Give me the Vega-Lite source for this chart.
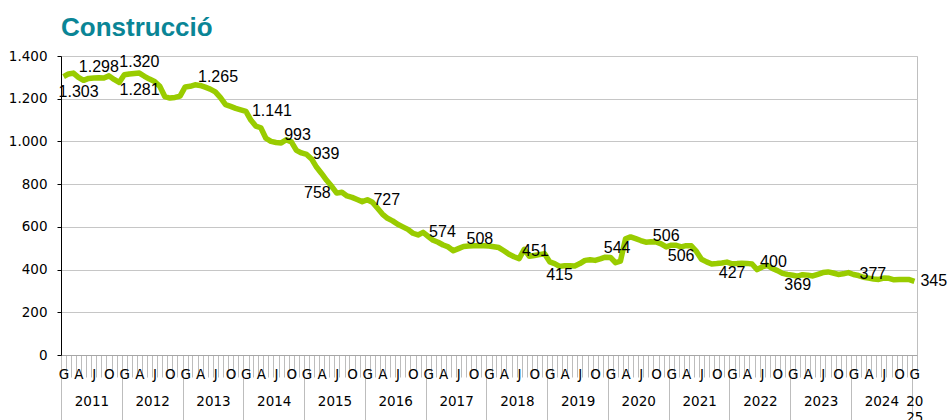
{
  "$schema": "https://vega.github.io/schema/vega-lite/v6.json",
  "width": 856,
  "height": 299,
  "autosize": {"type": "none"},
  "padding": {"left": 61, "top": 56, "right": 31, "bottom": 65},
  "title": {"text": "Construcció", "anchor": "start", "frame": "group", "font": "Liberation Sans", "fontSize": 26, "fontWeight": "bold", "color": "#0A8596", "offset": 8},
  "config": {
    "locale": {"number": {"decimal": ",", "thousands": ".", "grouping": [3], "currency": ["", " €"]}},
    "view": {"stroke": "#BFBFBF"},
    "font": "Liberation Sans"
  },
  "data": {"values": [
    {"date":"2011-01","v":1303},{"date":"2011-02","v":1316},{"date":"2011-03","v":1320},{"date":"2011-04","v":1300},{"date":"2011-05","v":1286},{"date":"2011-06","v":1295},{"date":"2011-07","v":1297},{"date":"2011-08","v":1298},{"date":"2011-09","v":1297},{"date":"2011-10","v":1307},{"date":"2011-11","v":1290},{"date":"2011-12","v":1276},
    {"date":"2012-01","v":1312},{"date":"2012-02","v":1316},{"date":"2012-03","v":1318},{"date":"2012-04","v":1320},{"date":"2012-05","v":1305},{"date":"2012-06","v":1292},{"date":"2012-07","v":1281},{"date":"2012-08","v":1258},{"date":"2012-09","v":1210},{"date":"2012-10","v":1203},{"date":"2012-11","v":1206},{"date":"2012-12","v":1212},
    {"date":"2013-01","v":1255},{"date":"2013-02","v":1258},{"date":"2013-03","v":1265},{"date":"2013-04","v":1262},{"date":"2013-05","v":1254},{"date":"2013-06","v":1245},{"date":"2013-07","v":1232},{"date":"2013-08","v":1205},{"date":"2013-09","v":1172},{"date":"2013-10","v":1164},{"date":"2013-11","v":1155},{"date":"2013-12","v":1148},
    {"date":"2014-01","v":1141},{"date":"2014-02","v":1100},{"date":"2014-03","v":1072},{"date":"2014-04","v":1064},{"date":"2014-05","v":1015},{"date":"2014-06","v":1000},{"date":"2014-07","v":995},{"date":"2014-08","v":993},{"date":"2014-09","v":1008},{"date":"2014-10","v":998},{"date":"2014-11","v":958},{"date":"2014-12","v":946},
    {"date":"2015-01","v":939},{"date":"2015-02","v":918},{"date":"2015-03","v":880},{"date":"2015-04","v":850},{"date":"2015-05","v":818},{"date":"2015-06","v":790},{"date":"2015-07","v":758},{"date":"2015-08","v":762},{"date":"2015-09","v":745},{"date":"2015-10","v":738},{"date":"2015-11","v":728},{"date":"2015-12","v":718},
    {"date":"2016-01","v":727},{"date":"2016-02","v":715},{"date":"2016-03","v":688},{"date":"2016-04","v":660},{"date":"2016-05","v":640},{"date":"2016-06","v":628},{"date":"2016-07","v":612},{"date":"2016-08","v":600},{"date":"2016-09","v":588},{"date":"2016-10","v":570},{"date":"2016-11","v":562},{"date":"2016-12","v":574},
    {"date":"2017-01","v":555},{"date":"2017-02","v":537},{"date":"2017-03","v":528},{"date":"2017-04","v":515},{"date":"2017-05","v":506},{"date":"2017-06","v":488},{"date":"2017-07","v":498},{"date":"2017-08","v":508},{"date":"2017-09","v":510},{"date":"2017-10","v":511},{"date":"2017-11","v":512},{"date":"2017-12","v":512},
    {"date":"2018-01","v":510},{"date":"2018-02","v":507},{"date":"2018-03","v":503},{"date":"2018-04","v":488},{"date":"2018-05","v":472},{"date":"2018-06","v":460},{"date":"2018-07","v":451},{"date":"2018-08","v":495},{"date":"2018-09","v":462},{"date":"2018-10","v":466},{"date":"2018-11","v":470},{"date":"2018-12","v":474},
    {"date":"2019-01","v":436},{"date":"2019-02","v":428},{"date":"2019-03","v":415},{"date":"2019-04","v":418},{"date":"2019-05","v":418},{"date":"2019-06","v":417},{"date":"2019-07","v":428},{"date":"2019-08","v":443},{"date":"2019-09","v":446},{"date":"2019-10","v":443},{"date":"2019-11","v":450},{"date":"2019-12","v":458},
    {"date":"2020-01","v":457},{"date":"2020-02","v":432},{"date":"2020-03","v":440},{"date":"2020-04","v":544},{"date":"2020-05","v":553},{"date":"2020-06","v":545},{"date":"2020-07","v":536},{"date":"2020-08","v":528},{"date":"2020-09","v":530},{"date":"2020-10","v":529},{"date":"2020-11","v":520},{"date":"2020-12","v":506},
    {"date":"2021-01","v":514},{"date":"2021-02","v":514},{"date":"2021-03","v":506},{"date":"2021-04","v":512},{"date":"2021-05","v":511},{"date":"2021-06","v":485},{"date":"2021-07","v":448},{"date":"2021-08","v":436},{"date":"2021-09","v":426},{"date":"2021-10","v":428},{"date":"2021-11","v":431},{"date":"2021-12","v":435},
    {"date":"2022-01","v":427},{"date":"2022-02","v":428},{"date":"2022-03","v":430},{"date":"2022-04","v":429},{"date":"2022-05","v":426},{"date":"2022-06","v":400},{"date":"2022-07","v":412},{"date":"2022-08","v":420},{"date":"2022-09","v":405},{"date":"2022-10","v":395},{"date":"2022-11","v":382},{"date":"2022-12","v":377},
    {"date":"2023-01","v":373},{"date":"2023-02","v":369},{"date":"2023-03","v":376},{"date":"2023-04","v":374},{"date":"2023-05","v":370},{"date":"2023-06","v":378},{"date":"2023-07","v":386},{"date":"2023-08","v":389},{"date":"2023-09","v":384},{"date":"2023-10","v":377},{"date":"2023-11","v":380},{"date":"2023-12","v":386},
    {"date":"2024-01","v":377},{"date":"2024-02","v":372},{"date":"2024-03","v":364},{"date":"2024-04","v":360},{"date":"2024-05","v":356},{"date":"2024-06","v":354},{"date":"2024-07","v":360},{"date":"2024-08","v":359},{"date":"2024-09","v":352},{"date":"2024-10","v":353},{"date":"2024-11","v":354},{"date":"2024-12","v":353},
    {"date":"2025-01","v":345}
  ]},
  "encoding": {
    "y": {"field": "v", "type": "quantitative", "scale": {"domain": [0, 1400], "nice": false},
      "axis": {"orient": "left", "title": null, "values": [0, 200, 400, 600, 800, 1000, 1200, 1400], "format": ",.0f", "grid": true, "gridColor": "#C6C6C6", "gridWidth": 1, "domain": true, "domainColor": "#000000", "ticks": true, "tickColor": "#000000", "tickSize": 4, "labelPadding": 10, "labelFont": "DejaVu Sans", "labelFontSize": 13.5, "labelColor": "#000000"}}
  },
  "layer": [
    {
      "mark": {"type": "line", "opacity": 0},
      "encoding": {
        "x": {"field": "date", "timeUnit": "utcyearmonth", "type": "temporal", "bandPosition": 0.5,
          "scale": {"type": "utc", "domain": [{"year": 2011, "month": 1, "date": 1, "utc": true}, {"year": 2025, "month": 2, "date": 1, "utc": true}], "nice": false},
          "axis": {"orient": "bottom", "title": null, "tickCount": {"interval": "year", "step": 1}, "grid": false, "domain": false, "ticks": true, "tickSize": 65, "tickColor": "#BDBDBD", "tickWidth": 1,
            "labelExpr": "utcyear(datum.value) < 2025 ? '' + utcyear(datum.value) : ''", "labelOffset": 30.4, "labelPadding": -26, "labelFont": "DejaVu Sans", "labelFontSize": 13.5, "labelColor": "#000000", "labelFlush": false, "labelOverlap": false, "labelBound": false, "labelAlign": "center", "labelBaseline": "top"}}
      }
    },
    {
      "mark": {"type": "line", "opacity": 0},
      "encoding": {
        "x": {"field": "date", "timeUnit": "utcyearmonth", "type": "temporal", "bandPosition": 0.5,
          "axis": {"orient": "bottom", "title": null, "values": [{"year": 2025, "month": 1, "date": 1, "utc": true}], "grid": false, "domain": false, "ticks": false,
            "labelExpr": "['20','25']", "labelOffset": 2.5, "labelPadding": 39, "labelLineHeight": 16, "labelFont": "DejaVu Sans", "labelFontSize": 13.5, "labelColor": "#000000", "labelFlush": false, "labelOverlap": false, "labelBound": false, "labelAlign": "center", "labelBaseline": "top"}}
      }
    },
    {
      "mark": {"type": "line", "color": "#99CC00", "strokeWidth": 5.5, "strokeJoin": "round"},
      "encoding": {
        "x": {"field": "date", "timeUnit": "utcyearmonth", "type": "temporal", "bandPosition": 0.5,
          "axis": {"orient": "bottom", "title": null, "tickCount": {"interval": "month", "step": 1}, "grid": false, "domain": true, "domainColor": "#A6A6A6", "ticks": true, "tickSize": 22, "tickColor": "#BDBDBD", "tickWidth": 1,
            "labelExpr": "['G','','','A','','','J','','','O','',''][utcmonth(datum.value)]", "labelOffset": 2.5, "labelPadding": -10, "labelFont": "DejaVu Sans", "labelFontSize": 13.5, "labelColor": "#000000", "labelFlush": false, "labelOverlap": false, "labelBound": false, "labelAlign": "center", "labelBaseline": "top"}}
      }
    },
    {
      "transform": [{"filter": "indexof(['2011-08','2012-04','2020-12'], utcFormat(toDate(datum.date), '%Y-%m')) >= 0"}],
      "mark": {"type": "text", "font": "Liberation Sans", "fontSize": 16, "color": "#000000", "align": "center", "baseline": "middle", "dy": -11},
      "encoding": {
        "x": {"field": "date", "timeUnit": "utcyearmonth", "type": "temporal", "bandPosition": 0.5, "axis": null},
        "text": {"field": "v", "type": "quantitative", "format": ","}
      }
    },
    {
      "transform": [{"filter": "indexof(['2019-03','2021-03','2022-01','2023-02'], utcFormat(toDate(datum.date), '%Y-%m')) >= 0"}],
      "mark": {"type": "text", "font": "Liberation Sans", "fontSize": 16, "color": "#000000", "align": "center", "baseline": "middle", "dy": 9},
      "encoding": {
        "x": {"field": "date", "timeUnit": "utcyearmonth", "type": "temporal", "bandPosition": 0.5, "axis": null},
        "text": {"field": "v", "type": "quantitative", "format": ","}
      }
    },
    {
      "transform": [{"filter": "indexof(['2014-01','2015-01','2016-01','2016-12','2024-01','2025-01'], utcFormat(toDate(datum.date), '%Y-%m')) >= 0"}],
      "mark": {"type": "text", "font": "Liberation Sans", "fontSize": 16, "color": "#000000", "align": "left", "baseline": "middle", "dx": 6},
      "encoding": {
        "x": {"field": "date", "timeUnit": "utcyearmonth", "type": "temporal", "bandPosition": 0.5, "axis": null},
        "text": {"field": "v", "type": "quantitative", "format": ","}
      }
    },
    {
      "transform": [{"filter": "indexof(['2015-07'], utcFormat(toDate(datum.date), '%Y-%m')) >= 0"}],
      "mark": {"type": "text", "font": "Liberation Sans", "fontSize": 16, "color": "#000000", "align": "right", "baseline": "middle", "dx": -6},
      "encoding": {
        "x": {"field": "date", "timeUnit": "utcyearmonth", "type": "temporal", "bandPosition": 0.5, "axis": null},
        "text": {"field": "v", "type": "quantitative", "format": ","}
      }
    },
    {
      "transform": [{"filter": "indexof(['2012-07','2020-04'], utcFormat(toDate(datum.date), '%Y-%m')) >= 0"}],
      "mark": {"type": "text", "font": "Liberation Sans", "fontSize": 16, "color": "#000000", "align": "right", "baseline": "middle", "dx": 5, "dy": 9},
      "encoding": {
        "x": {"field": "date", "timeUnit": "utcyearmonth", "type": "temporal", "bandPosition": 0.5, "axis": null},
        "text": {"field": "v", "type": "quantitative", "format": ","}
      }
    },
    {
      "transform": [{"filter": "indexof(['2011-01'], utcFormat(toDate(datum.date), '%Y-%m')) >= 0"}],
      "mark": {"type": "text", "font": "Liberation Sans", "fontSize": 16, "color": "#000000", "align": "left", "baseline": "middle", "dx": -5, "dy": 15},
      "encoding": {
        "x": {"field": "date", "timeUnit": "utcyearmonth", "type": "temporal", "bandPosition": 0.5, "axis": null},
        "text": {"field": "v", "type": "quantitative", "format": ","}
      }
    },
    {
      "transform": [{"filter": "indexof(['2013-03','2014-08','2017-08','2018-07','2022-06'], utcFormat(toDate(datum.date), '%Y-%m')) >= 0"}],
      "mark": {"type": "text", "font": "Liberation Sans", "fontSize": 16, "color": "#000000", "align": "left", "baseline": "middle", "dx": 3, "dy": -8},
      "encoding": {
        "x": {"field": "date", "timeUnit": "utcyearmonth", "type": "temporal", "bandPosition": 0.5, "axis": null},
        "text": {"field": "v", "type": "quantitative", "format": ","}
      }
    }
  ],
  "resolve": {"axis": {"x": "independent", "y": "shared"}}
}
